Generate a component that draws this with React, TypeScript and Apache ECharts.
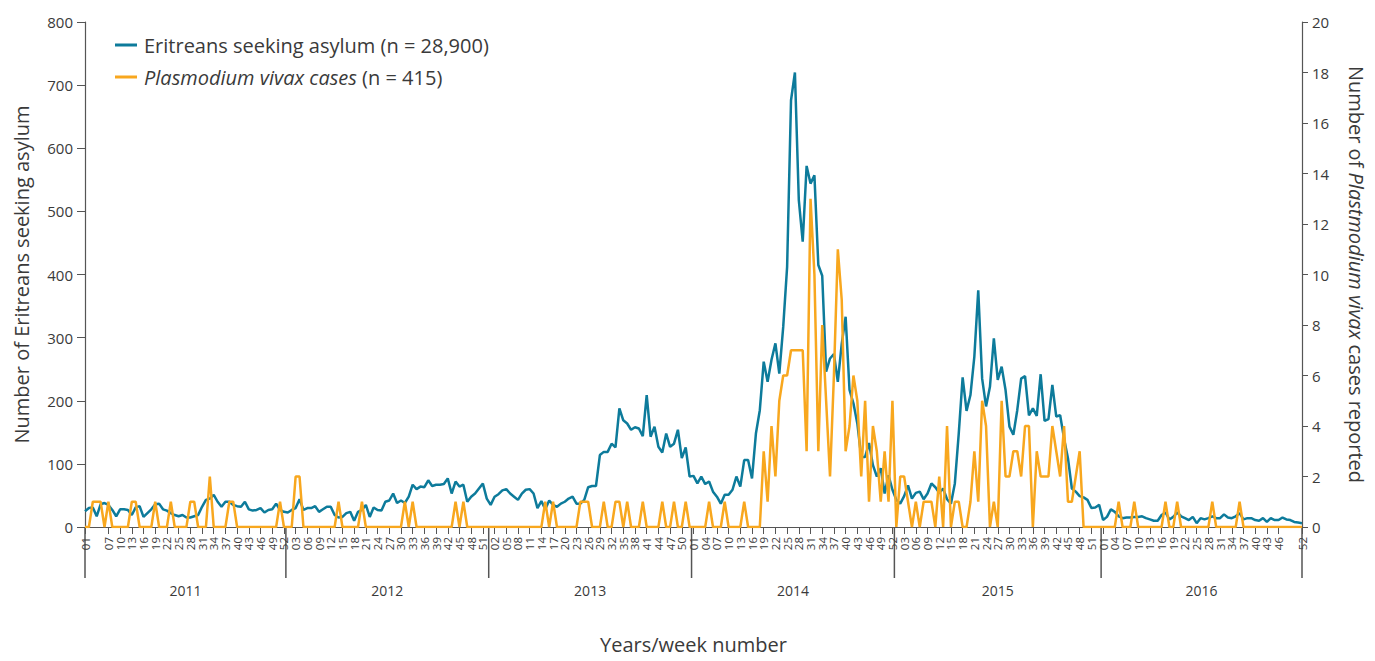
import React, { useEffect, useRef } from "react";
import * as echarts from "echarts";

const years = [2011, 2012, 2013, 2014, 2015, 2016];
const weeksPerYear = [52, 52, 52, 52, 53, 52];

// Eritreans seeking asylum, weekly
const asylum2011 = [25,30,31,17,36,38,35,27,17,28,28,27,19,31,33,16,22,28,36,37,28,26,22,19,17,19,15,15,17,19,32,43,45,51,40,32,40,40,35,33,32,40,28,26,27,30,23,27,28,37,27,24];
const asylum2012 = [23,27,30,44,27,30,30,33,24,28,32,32,19,15,16,22,24,10,24,27,35,16,31,27,26,40,42,53,38,42,38,48,67,60,64,63,74,65,67,67,68,77,53,72,64,67,40,48,53,61,69,45];
const asylum2013 = [35,48,52,58,60,53,48,43,53,59,60,53,30,41,28,42,35,32,37,40,45,48,37,37,43,63,65,65,114,119,119,132,126,188,169,164,154,158,156,144,209,143,159,127,118,148,127,132,154,109,126,80];
const asylum2014 = [81,69,80,68,72,56,48,37,51,51,59,80,64,106,106,77,148,185,262,230,265,291,243,317,412,676,720,518,452,572,544,557,415,398,246,267,274,230,290,333,217,196,164,111,111,133,98,80,93,53,82,59];
const asylum2015 = [43,37,49,66,45,54,56,44,53,69,63,54,61,44,37,69,148,237,184,209,270,375,235,191,222,299,233,254,217,159,146,185,235,239,177,188,176,242,168,171,225,175,177,140,109,61,56,49,47,43,30,31,35];
const asylum2016 = [11,16,28,24,17,14,15,15,16,16,17,14,12,10,10,19,23,12,16,23,17,14,11,16,6,14,12,14,17,14,14,20,15,14,17,22,12,14,14,11,10,14,8,14,11,11,15,12,11,8,7,6];

// Plasmodium vivax cases, weekly
const vivax2011 = [0,0,1,1,1,0,1,0,0,0,0,0,1,1,0,0,0,0,1,0,0,0,1,0,0,0,0,1,1,0,0,0,2,0,0,0,0,1,1,0,0,0,0,0,0,0,0,0,0,0,1,0];
const vivax2012 = [0,0,2,2,0,0,0,0,0,0,0,0,0,1,0,0,0,0,0,1,0,0,0,0,0,0,0,0,0,0,1,0,1,0,0,0,0,0,0,0,0,0,0,1,0,1,0,0,0,0,0,0];
const vivax2013 = [0,0,0,0,0,0,0,0,0,0,0,0,0,0,1,0,1,0,0,0,0,0,0,1,1,1,0,0,0,1,0,0,1,1,0,1,0,0,0,1,0,0,0,0,1,0,0,1,0,0,1,0];
const vivax2014 = [0,0,0,0,1,0,0,0,1,0,0,0,0,1,0,0,0,0,3,1,4,2,5,6,6,7,7,7,7,3,13,10,3,8,5,2,6,11,9,3,4,6,5,2,5,1,4,3,1,3,1,5];
const vivax2015 = [0,2,2,1,0,1,0,1,1,1,0,2,0,4,0,1,1,0,0,1,3,1,5,4,0,1,0,5,2,2,3,3,2,4,4,0,3,2,2,2,4,3,2,4,1,1,2,3,0,0,0,0,0];
const vivax2016 = [0,0,0,0,1,0,0,0,1,0,0,0,0,0,0,0,1,0,0,1,0,0,0,0,0,0,0,0,1,0,0,0,0,0,0,1,0,0,0,0,0,0,0,0,0,0,0,0,0,0,0,0];

const asylum = [...asylum2011, ...asylum2012, ...asylum2013, ...asylum2014, ...asylum2015, ...asylum2016];
const vivax = [...vivax2011, ...vivax2012, ...vivax2013, ...vivax2014, ...vivax2015, ...vivax2016];

const categories: string[] = [];
years.forEach((y, k) => {
  for (let w = 1; w <= weeksPerYear[k]; w++) categories.push(`${y}-${String(w).padStart(2, "0")}`);
});

const asylumName = "Eritreans seeking asylum (n = 28,900)";
const vivaxName = "Plasmodium vivax cases (n = 415)";

const FONT = "'Open Sans', sans-serif";
const BLUE = "#0d7b9b";
const ORANGE = "#f8a71e";
const AXIS = "#555555";
const TEXT = "#3a3a3a";

export default function App() {
  const ref = useRef<HTMLDivElement>(null);
  useEffect(() => {
    if (!ref.current) return;
    const chart = echarts.init(ref.current, undefined, { renderer: "svg" });
    const option: any = {
      animation: false,
      textStyle: { fontFamily: FONT },
      grid: { left: 85, right: 73, top: 22, bottom: 134, containLabel: false, outerBoundsMode: "none" },
      legend: {
        orient: "vertical",
        left: 115,
        top: 35,
        padding: 0,
        itemWidth: 22,
        itemHeight: 3,
        itemGap: 12,
        icon: "rect",
        data: [asylumName, vivaxName],
        formatter: (name: string) =>
          name === vivaxName ? "{i|Plasmodium vivax cases} (n = 415)" : name,
        textStyle: {
          fontFamily: FONT,
          fontSize: 20,
          color: TEXT,
          padding: [0, 0, 0, 2],
          rich: { i: { fontStyle: "italic", fontFamily: FONT, fontSize: 20, color: TEXT } },
        },
      },
      xAxis: {
        type: "category",
        data: categories,
        boundaryGap: false,
        name: "Years/week number",
        nameLocation: "middle",
        nameGap: 107,
        nameTextStyle: { fontFamily: FONT, fontSize: 20, lineHeight: 20, color: TEXT },
        axisLine: { lineStyle: { color: AXIS, width: 1.2 } },
        axisTick: { interval: 2, length: 7, lineStyle: { color: AXIS } },
        axisLabel: {
          interval: 2,
          rotate: 90,
          margin: 10,
          fontSize: 11.5,
          lineHeight: 9,
          color: TEXT,
          fontFamily: FONT,
          showMinLabel: true,
          showMaxLabel: true,
          hideOverlap: false,
          formatter: (v: string) => v.slice(-2),
        },
        splitLine: { show: false },
      },
      yAxis: [
        {
          type: "value",
          min: 0,
          max: 800,
          interval: 100,
          name: "Number of Eritreans seeking asylum",
          nameLocation: "middle",
          nameGap: 54,
          nameRotate: 90,
          nameTextStyle: { fontFamily: FONT, fontSize: 20, color: TEXT },
          axisLine: { show: true, lineStyle: { color: AXIS, width: 1.2 } },
          axisTick: { show: true, length: 8, lineStyle: { color: AXIS } },
          axisLabel: { fontSize: 15, color: TEXT, margin: 12, fontFamily: FONT },
          splitLine: { show: false },
        },
        {
          type: "value",
          min: 0,
          max: 20,
          interval: 2,
          position: "right",
          name: "{a|Number of }{b|Plastmodium vivax}{a| cases reported}",
          nameLocation: "middle",
          nameGap: 44,
          nameRotate: -90,
          nameTextStyle: {
            fontFamily: FONT,
            fontSize: 20,
            color: TEXT,
            rich: {
              a: { fontFamily: FONT, fontSize: 20, color: TEXT },
              b: { fontFamily: FONT, fontSize: 20, color: TEXT, fontStyle: "italic" },
            },
          },
          axisLine: { show: true, lineStyle: { color: AXIS, width: 1.2 } },
          axisTick: { show: true, length: 6, lineStyle: { color: AXIS } },
          axisLabel: { fontSize: 15, color: TEXT, margin: 10, fontFamily: FONT },
          splitLine: { show: false },
        },
      ],
      series: [
        {
          name: asylumName,
          type: "line",
          data: asylum,
          yAxisIndex: 0,
          showSymbol: false,
          symbol: "none",
          color: BLUE,
          lineStyle: { color: BLUE, width: 2.5 },
          z: 2,
        },
        {
          name: vivaxName,
          type: "line",
          data: vivax,
          yAxisIndex: 1,
          showSymbol: false,
          symbol: "none",
          color: ORANGE,
          lineStyle: { color: ORANGE, width: 2.5 },
          z: 3,
        },
      ],
    };
    chart.setOption(option);

    // year separators and year labels below the week axis
    const px = (idx: number) => {
      const f = Math.floor(idx);
      const c = Math.min(Math.ceil(idx), categories.length - 1);
      const a = chart.convertToPixel({ xAxisIndex: 0 }, f) as number;
      const b = chart.convertToPixel({ xAxisIndex: 0 }, c) as number;
      return a + (b - a) * (idx - f);
    };
    const y0 = chart.convertToPixel({ yAxisIndex: 0 }, 0) as number;
    const bounds: number[] = [0];
    let acc = 0;
    weeksPerYear.forEach((n, k) => {
      acc += n;
      bounds.push(k === weeksPerYear.length - 1 ? acc - 1 : acc - 0.5);
    });
    const graphics: any[] = [];
    bounds.forEach((b) => {
      const x = px(b);
      graphics.push({
        type: "line",
        shape: { x1: x, y1: y0, x2: x, y2: y0 + 51 },
        style: { stroke: AXIS, lineWidth: 1.5 },
        silent: true,
      });
    });
    years.forEach((yr, k) => {
      const xm = (px(bounds[k]) + px(bounds[k + 1])) / 2;
      graphics.push({
        type: "text",
        x: xm,
        y: y0 + 63,
        style: {
          text: String(yr),
          fontFamily: FONT,
          fontSize: 14,
          fill: TEXT,
          textAlign: "center",
          textVerticalAlign: "middle",
        },
        silent: true,
      });
    });
    chart.setOption({ graphic: graphics });

    return () => chart.dispose();
  }, []);
  return (
    <div
      ref={ref}
      style={{ position: "fixed", left: 0, top: 0, width: 1375, height: 661, background: "#fff" }}
    />
  );
}
